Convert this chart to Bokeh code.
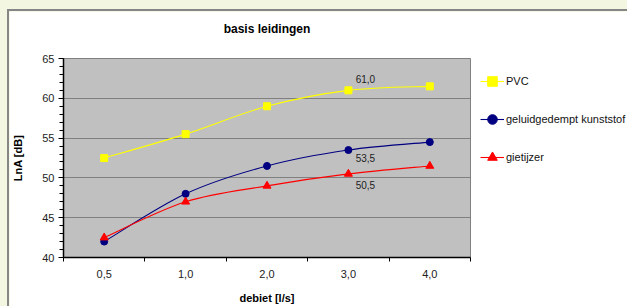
import numpy as np
from bokeh.plotting import figure
from bokeh.models import (FixedTicker, Range1d, Legend, LegendItem, Label, ColumnDataSource,
                          LinearAxis)
from bokeh.embed import file_html
from bokeh.resources import INLINE

# ---- data ----
categories = ["0,5", "1,0", "2,0", "3,0", "4,0"]
pvc = [52.5, 55.5, 59.0, 61.0, 61.5]
geluid = [42.0, 48.0, 51.5, 53.5, 54.5]
gietijzer = [42.5, 47.0, 49.0, 50.5, 51.5]
y_ticks = [40, 45, 50, 55, 60, 65]
label_index = 3
title_text = "basis leidingen"

FONT = "Liberation Sans"

p = figure(frame_width=407, frame_height=199,
           x_range=Range1d(-0.5, len(categories) - 0.5), y_range=Range1d(40, 65),
           output_backend="svg", toolbar_location=None, title_location=None,
           min_border_left=53, min_border_right=158, min_border_top=47, min_border_bottom=49,
           background_fill_color="#C0C0C0", border_fill_color="white",
           outline_line_color="#808080", outline_line_width=1)
p.styles = {"border-left": "2px solid #868686", "border-top": "2px solid #868686"}

xaxis = p.below[0]
yaxis = p.left[0]

# axes
yaxis.ticker = FixedTicker(ticks=y_ticks, minor_ticks=list(range(y_ticks[0], y_ticks[-1] + 1)))
yaxis.major_tick_out = 5
yaxis.major_tick_in = 0
yaxis.minor_tick_out = 4
yaxis.minor_tick_in = 0
yaxis.major_label_standoff = 4
yaxis.axis_label = "LnA [dB]"
yaxis.axis_label_standoff = 15

xs = list(range(len(categories)))
xaxis.ticker = FixedTicker(ticks=xs, minor_ticks=[i - 0.5 for i in range(len(categories) + 1)])
xaxis.major_label_overrides = {i: c for i, c in enumerate(categories)}
xaxis.major_tick_out = 0
xaxis.major_tick_in = 0
xaxis.minor_tick_out = 4
xaxis.minor_tick_in = 0
xaxis.major_label_standoff = 8
xaxis.axis_label = "debiet [l/s]"
xaxis.axis_label_standoff = 11

for ax in (xaxis, yaxis):
    ax.axis_line_color = "black"
    ax.axis_line_width = 1.5
    ax.major_tick_line_color = "black"
    ax.minor_tick_line_color = "black"
    ax.major_label_text_font = FONT
    ax.major_label_text_font_size = "11px"
    ax.major_label_text_color = "#222222"
    ax.axis_label_text_font = FONT
    ax.axis_label_text_font_size = "11px"
    ax.axis_label_text_font_style = "bold"
    ax.axis_label_text_color = "black"

# title drawn as the label of an empty axis above the frame
title_axis = LinearAxis(ticker=FixedTicker(ticks=[], minor_ticks=[]), axis_line_color=None,
                        major_tick_line_color=None, minor_tick_line_color=None,
                        major_tick_out=0, major_tick_in=0, minor_tick_out=0, minor_tick_in=0,
                        major_label_standoff=0,
                        axis_label=title_text,
                        axis_label_standoff=23, axis_label_text_font=FONT,
                        axis_label_text_font_size="12px", axis_label_text_font_style="bold",
                        axis_label_text_color="black")
p.add_layout(title_axis, "above")

p.xgrid.visible = False
p.ygrid.ticker = FixedTicker(ticks=y_ticks)
p.ygrid.grid_line_color = "#808080"
p.ygrid.grid_line_width = 1


def bezier_source(ys):
    P = np.array(ys, dtype=float)
    X = np.arange(len(P), dtype=float)
    Pp = np.concatenate([[P[0]], P, [P[-1]]])
    Xp = np.concatenate([[X[0]], X, [X[-1]]])
    n = len(P) - 1
    d = dict(x0=[], y0=[], x1=[], y1=[], cx0=[], cy0=[], cx1=[], cy1=[])
    for i in range(n):
        j = i + 1
        d["x0"].append(X[i]); d["y0"].append(P[i])
        d["x1"].append(X[i + 1]); d["y1"].append(P[i + 1])
        d["cx0"].append(X[i] + (Xp[j + 1] - Xp[j - 1]) / 6)
        d["cy0"].append(P[i] + (Pp[j + 1] - Pp[j - 1]) / 6)
        d["cx1"].append(X[i + 1] - (Xp[j + 2] - Xp[j]) / 6)
        d["cy1"].append(P[i + 1] - (Pp[j + 2] - Pp[j]) / 6)
    return ColumnDataSource(d)


series = [
    ("PVC", pvc, "#FFFF00", "square", 7),
    ("geluidgedempt kunststof", geluid, "#000080", "circle", 7),
    ("gietijzer", gietijzer, "#FF0000", "triangle", 8),
]
items = []
for name, ys, col, mk, sz in series:
    b = p.bezier(x0="x0", y0="y0", x1="x1", y1="y1", cx0="cx0", cy0="cy0", cx1="cx1", cy1="cy1",
                 source=bezier_source(ys), line_color=col, line_width=1.1)
    s = p.scatter(xs, ys, marker=mk, size=sz, fill_color=col, line_color=col)
    items.append(LegendItem(label=name, renderers=[b, s]))

legend = Legend(items=items, location="top_left", glyph_width=24, glyph_height=26,
                label_height=26, spacing=12, padding=0, margin=10, label_standoff=2,
                border_line_color=None, background_fill_alpha=0,
                label_text_font=FONT, label_text_font_size="11px", label_text_color="#111111")
p.add_layout(legend, "right")


def fmt(v):
    return f"{v:.1f}".replace(".", ",")


for ys, yoff in ((pvc, 11.5), (geluid, -8), (gietijzer, -11)):
    p.add_layout(Label(x=label_index, y=ys[label_index], text=fmt(ys[label_index]),
                       x_offset=17, y_offset=yoff, text_align="center", text_baseline="middle",
                       text_font=FONT, text_font_size="10px", text_color="#222222"))

html = file_html(p, INLINE)
css = ("<style>html, body { background-color: #F3F6E1 !important; } "
       "body { padding: 9px 0 0 7px !important; }</style>")
html = html.replace("</head>", css + "</head>", 1)
open("out.html", "w").write(html)
